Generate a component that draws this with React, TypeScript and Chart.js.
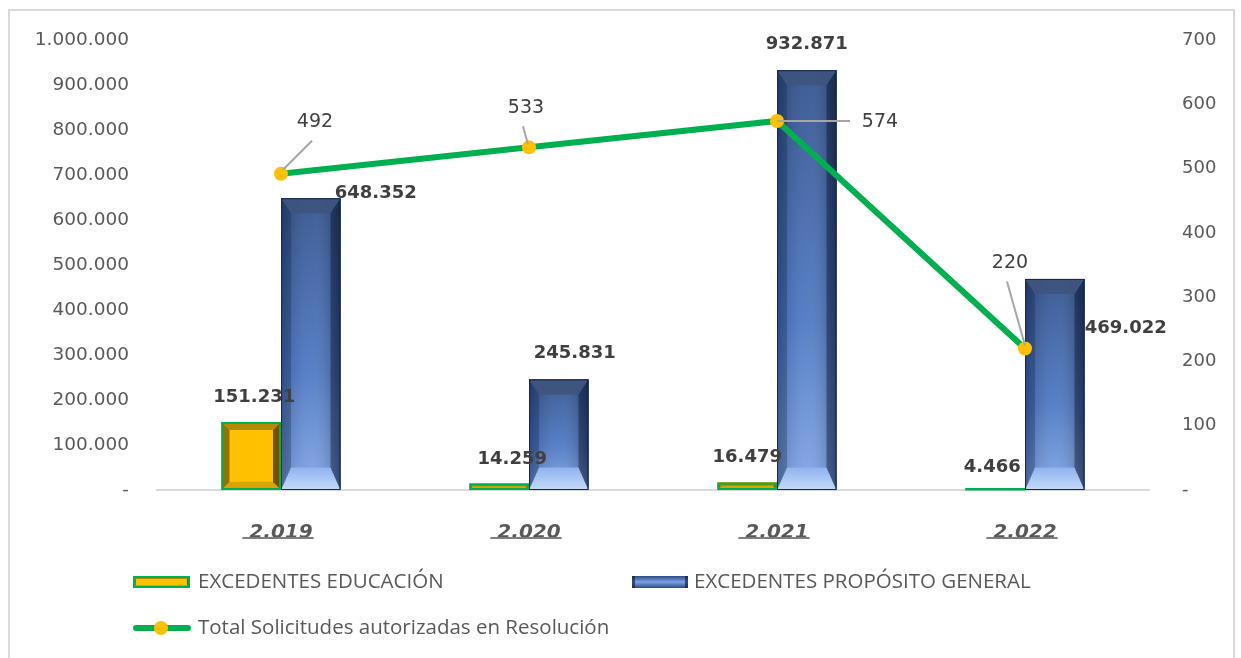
import React, { useEffect, useRef } from 'react';
import { Chart, registerables } from 'chart.js';
Chart.register(...registerables);

const categories = ['2.019', '2.020', '2.021', '2.022'];
const educacion = [151231, 14259, 16479, 4466];
const proposito = [648352, 245831, 932871, 469022];
const solicitudes = [492, 533, 574, 220];

const seriesNames = [
  'EXCEDENTES EDUCACIÓN',
  'EXCEDENTES PROPÓSITO GENERAL',
  'Total Solicitudes autorizadas en Resolución',
];

const fmt = (v: number) =>
  v === 0 ? '-' : String(Math.round(v)).replace(/\B(?=(\d{3})+(?!\d))/g, '.');

// label placement relative to mark anchors
const barLabelOffsets = [
  [[3, -25], [13, -24], [0, -25], [-3, -21]],
  [[65, -5], [16, -26], [0, -26], [71, 49]],
];
const lineLabelPlacement = [
  { lx: 34, ly: -52, a: [2, -4], b: [31, -33] },
  { lx: -3, ly: -39, a: [-1, -3], b: [-6, -21] },
  { lx: 103, ly: 1, a: [0, 0], b: [73, 0] },
  { lx: -15, ly: -86, a: [0, -3], b: [-18, -67] },
];

function poly(ctx: CanvasRenderingContext2D, pts: number[][], fill: any) {
  ctx.beginPath();
  ctx.moveTo(pts[0][0], pts[0][1]);
  for (let i = 1; i < pts.length; i++) ctx.lineTo(pts[i][0], pts[i][1]);
  ctx.closePath();
  ctx.fillStyle = fill;
  ctx.fill();
}

function drawBlueBar(ctx: CanvasRenderingContext2D, x0: number, y0: number, x1: number, y1: number, bx: number, by: number) {
  const h = y1 - y0;
  const g = ctx.createLinearGradient(0, y0, 0, y1);
  g.addColorStop(0, '#2E4F8C');
  g.addColorStop(0.6, '#4A76C4');
  g.addColorStop(1, '#80A6E8');
  ctx.fillStyle = g;
  ctx.fillRect(x0, y0, x1 - x0, h);
  const hg = ctx.createLinearGradient(x0, 0, x1, 0);
  hg.addColorStop(0, 'rgba(0,0,0,0.22)');
  hg.addColorStop(0.5, 'rgba(255,255,255,0.08)');
  hg.addColorStop(1, 'rgba(0,0,0,0.3)');
  ctx.fillStyle = hg;
  ctx.fillRect(x0, y0, x1 - x0, h);
  bx = Math.min(bx, (x1 - x0) / 2);
  by = Math.min(by, h / 2);
  const bb = Math.min(by * 1.5, h / 2);
  poly(ctx, [[x0, y0], [x1, y0], [x1 - bx, y0 + by], [x0 + bx, y0 + by]], 'rgba(62,84,126,0.95)');
  const bg = ctx.createLinearGradient(0, y1 - bb, 0, y1);
  bg.addColorStop(0, '#8FB3EE');
  bg.addColorStop(1, '#C4DAFA');
  poly(ctx, [[x0, y1], [x1, y1], [x1 - bx, y1 - bb], [x0 + bx, y1 - bb]], bg);
  poly(ctx, [[x0, y0], [x0 + bx, y0 + by], [x0 + bx, y1 - bb], [x0, y1]], 'rgba(20,40,80,0.3)');
  poly(ctx, [[x1, y0], [x1 - bx, y0 + by], [x1 - bx, y1 - bb], [x1, y1]], 'rgba(5,15,40,0.4)');
  ctx.strokeStyle = '#16264A';
  ctx.lineWidth = 1;
  ctx.strokeRect(x0 + 0.5, y0 + 0.5, x1 - x0 - 1, h - 1);
}

function drawYellowBar(ctx: CanvasRenderingContext2D, x0: number, y0: number, x1: number, y1: number, b: number) {
  const h = y1 - y0;
  ctx.fillStyle = '#FFC000';
  ctx.fillRect(x0, y0, x1 - x0, h);
  const bb = Math.min(b, h / 2, (x1 - x0) / 2);
  poly(ctx, [[x0, y0], [x1, y0], [x1 - bb, y0 + bb], [x0 + bb, y0 + bb]], '#B58B00');
  poly(ctx, [[x0, y1], [x1, y1], [x1 - bb, y1 - bb], [x0 + bb, y1 - bb]], '#D9A300');
  poly(ctx, [[x0, y0], [x0 + bb, y0 + bb], [x0 + bb, y1 - bb], [x0, y1]], '#957100');
  poly(ctx, [[x1, y0], [x1 - bb, y0 + bb], [x1 - bb, y1 - bb], [x1, y1]], '#6E5300');
  ctx.strokeStyle = '#00B050';
  ctx.lineWidth = 2;
  ctx.strokeRect(x0 + 1, y0 + 1, x1 - x0 - 2, Math.max(h - 2, 0.5));
}

const framePlugin = {
  id: 'frame',
  beforeDraw(chart: any) {
    const ctx = chart.ctx;
    ctx.save();
    ctx.fillStyle = '#ffffff';
    ctx.fillRect(0, 0, chart.width, chart.height);
    ctx.strokeStyle = '#D9D9D9';
    ctx.lineWidth = 2;
    ctx.strokeRect(9, 10, 1225, 720);
    ctx.restore();
  },
};

const bevelPlugin = {
  id: 'bevel',
  afterDatasetDraw(chart: any, args: any) {
    const meta = args.meta;
    if (meta.type !== 'bar') return;
    const ctx = chart.ctx;
    ctx.save();
    meta.data.forEach((el: any) => {
      const { x, y, base, width } = el.getProps(['x', 'y', 'base', 'width'], true);
      const x0 = x - width / 2;
      const x1 = x + width / 2;
      if (args.index === 0) drawYellowBar(ctx, x0, y, x1, base, 8);
      else drawBlueBar(ctx, x0, y, x1, base, 10, 15);
    });
    ctx.restore();
  },
};

const labelPlugin = {
  id: 'labels',
  afterDatasetsDraw(chart: any) {
    const ctx = chart.ctx;
    ctx.save();
    ctx.textAlign = 'center';
    ctx.textBaseline = 'middle';
    [0, 1].forEach((di) => {
      const meta = chart.getDatasetMeta(di);
      const vals = chart.data.datasets[di].data as number[];
      meta.data.forEach((el: any, i: number) => {
        const [ox, oy] = barLabelOffsets[di][i];
        ctx.font = 'bold 18px "DejaVu Sans"';
        ctx.fillStyle = '#404040';
        ctx.fillText(fmt(vals[i]), el.x + ox, el.y + oy);
      });
    });
    const lm = chart.getDatasetMeta(2);
    const lv = chart.data.datasets[2].data as number[];
    lm.data.forEach((el: any, i: number) => {
      const p = lineLabelPlacement[i];
      ctx.strokeStyle = '#A6A6A6';
      ctx.lineWidth = 2;
      ctx.beginPath();
      ctx.moveTo(el.x + p.a[0], el.y + p.a[1]);
      ctx.lineTo(el.x + p.b[0], el.y + p.b[1]);
      ctx.stroke();
      ctx.font = '19px "DejaVu Sans"';
      ctx.fillStyle = '#404040';
      ctx.fillText(fmt(lv[i]), el.x + p.lx, el.y + p.ly);
    });
    ctx.restore();
  },
  afterDraw(chart: any) {
    const ctx = chart.ctx;
    const xs = chart.scales.x;
    ctx.save();
    ctx.font = 'italic bold 20px "DejaVu Sans"';
    ctx.strokeStyle = '#7F7F7F';
    ctx.lineWidth = 2;
    categories.forEach((c, i) => {
      const x = xs.getPixelForTick(i);
      const w = ctx.measureText(c).width;
      ctx.beginPath();
      ctx.moveTo(x - w / 2 - 7, 538);
      ctx.lineTo(x + w / 2 + 1, 538);
      ctx.stroke();
    });
    // legend
    ctx.textAlign = 'left';
    ctx.textBaseline = 'middle';
    ctx.font = '20.5px "Open Sans"';
    drawYellowBar(ctx, 133, 576, 190, 588, 3);
    ctx.fillStyle = '#595959';
    ctx.fillText(seriesNames[0], 198, 582);
    const g = ctx.createLinearGradient(0, 576, 0, 588);
    g.addColorStop(0, '#2B4A84');
    g.addColorStop(0.5, '#7CA3E6');
    g.addColorStop(1, '#2B4A84');
    ctx.fillStyle = g;
    ctx.fillRect(632, 576, 56, 12);
    ctx.fillStyle = 'rgba(10,20,45,0.6)';
    ctx.fillRect(632, 576, 3, 12);
    ctx.fillRect(685, 576, 3, 12);
    ctx.fillStyle = '#595959';
    ctx.fillText(seriesNames[1], 694, 582);
    ctx.strokeStyle = '#00B050';
    ctx.lineWidth = 6;
    ctx.lineCap = 'round';
    ctx.beginPath();
    ctx.moveTo(136, 628);
    ctx.lineTo(188, 628);
    ctx.stroke();
    ctx.fillStyle = '#FFC000';
    ctx.beginPath();
    ctx.arc(161, 628, 7, 0, Math.PI * 2);
    ctx.fill();
    ctx.fillStyle = '#595959';
    ctx.fillText(seriesNames[2], 198, 628);
    ctx.restore();
  },
};

export default function App() {
  const ref = useRef<HTMLCanvasElement>(null);
  useEffect(() => {
    if (!ref.current) return;
    const chart = new Chart(ref.current, {
      type: 'bar',
      data: {
        labels: categories,
        datasets: [
          {
            type: 'bar',
            label: seriesNames[0],
            data: educacion,
            backgroundColor: '#FFC000',
            yAxisID: 'y',
            order: 2,
            categoryPercentage: 0.48,
            barPercentage: 1,
          },
          {
            type: 'bar',
            label: seriesNames[1],
            data: proposito,
            backgroundColor: '#3F66AD',
            yAxisID: 'y',
            order: 2,
            categoryPercentage: 0.48,
            barPercentage: 1,
          },
          {
            type: 'line',
            label: seriesNames[2],
            data: solicitudes,
            borderColor: '#00B050',
            borderWidth: 6,
            pointRadius: 7,
            pointBackgroundColor: '#FFC000',
            pointBorderWidth: 0,
            tension: 0,
            yAxisID: 'y1',
            order: 1,
          },
        ],
      } as any,
      options: {
        responsive: false,
        animation: false,
        layout: { padding: { top: 40, left: 0, right: 0, bottom: 0 } },
        plugins: { legend: { display: false }, tooltip: { enabled: false } },
        scales: {
          x: {
            grid: { display: false },
            border: { display: true, color: '#D9D9D9', width: 2 },
            ticks: {
              color: '#595959',
              padding: 23,
              font: { family: '"DejaVu Sans"', size: 20, weight: 'bold', style: 'italic' },
            },
            afterFit: (s: any) => { s.height = 168; },
          },
          y: {
            position: 'left',
            min: 0,
            max: 1000000,
            grid: { display: false },
            border: { display: false },
            ticks: {
              stepSize: 100000,
              color: '#595959',
              padding: 20,
              font: { family: '"DejaVu Sans"', size: 18.5 },
              callback: (v: any) => fmt(Number(v)),
            },
            afterFit: (s: any) => { s.width = 157; },
          },
          y1: {
            position: 'right',
            min: 0,
            max: 700,
            grid: { display: false },
            border: { display: false },
            ticks: {
              stepSize: 100,
              color: '#595959',
              padding: 25,
              font: { family: '"DejaVu Sans"', size: 18 },
              callback: (v: any) => fmt(Number(v)),
            },
            afterFit: (s: any) => { s.width = 92; },
          },
        },
      } as any,
      plugins: [framePlugin, bevelPlugin, labelPlugin],
    });
    return () => chart.destroy();
  }, []);
  return (
    <div style={{ position: 'fixed', left: 0, top: 0, width: 1241, height: 658, background: '#fff' }}>
      <canvas ref={ref} width={1241} height={658} style={{ display: 'block', width: 1241, height: 658 }} />
    </div>
  );
}
